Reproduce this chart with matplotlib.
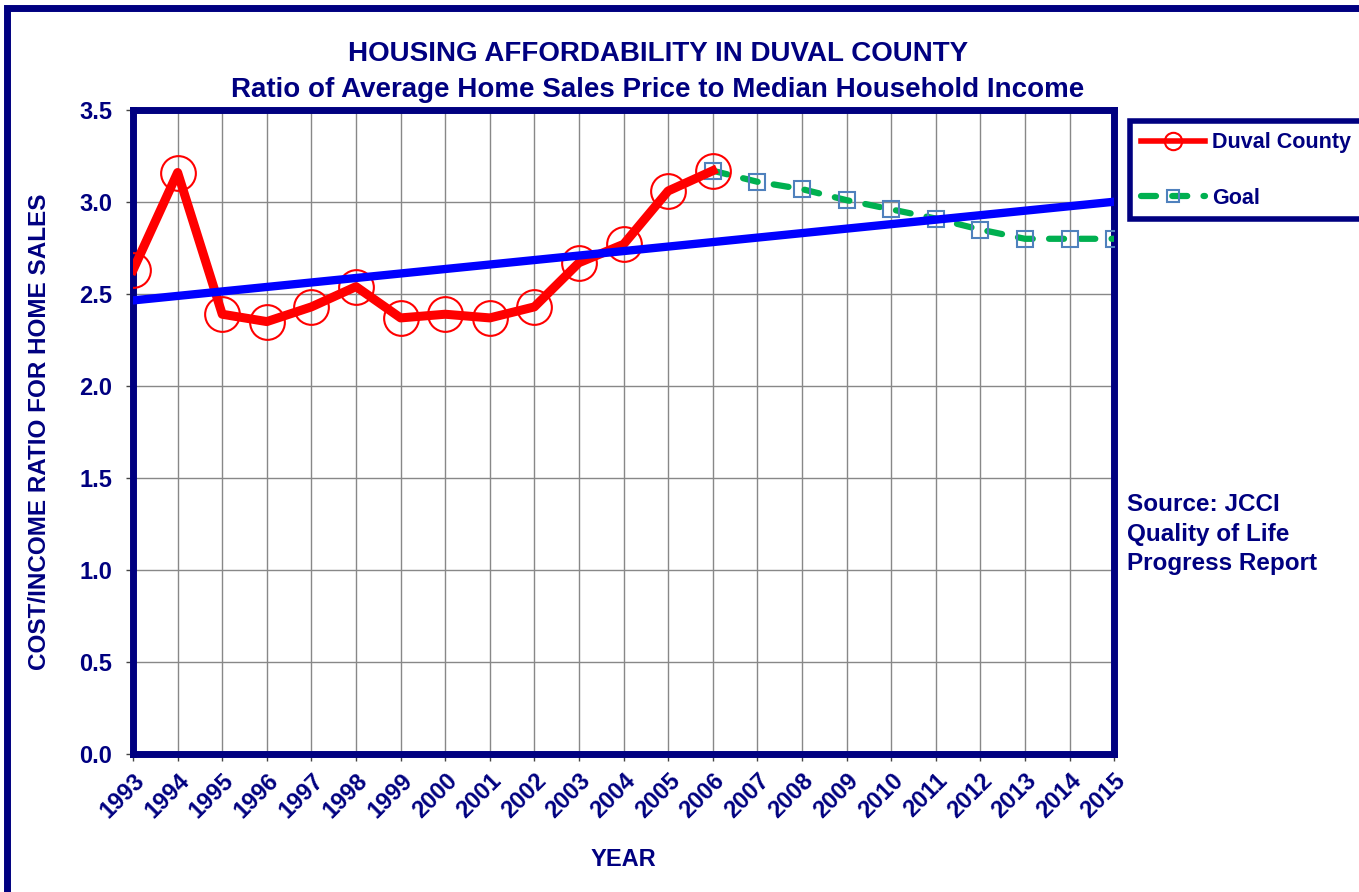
import numpy as np
import matplotlib
matplotlib.use("Agg")
import matplotlib.pyplot as plt
from matplotlib.patches import Rectangle

plt.rcParams['font.family'] = ['Liberation Sans', 'DejaVu Sans']
plt.rcParams['font.weight'] = 'bold'

# data
years = list(range(1993, 2016))
duval_years = list(range(1993, 2007))
duval_ratio = [2.63, 3.16, 2.39, 2.35, 2.43, 2.54, 2.37, 2.39, 2.37, 2.43, 2.67, 2.77, 3.06, 3.17]
goal_years = list(range(2006, 2016))
goal_ratio = [3.17, 3.11, 3.07, 3.01, 2.96, 2.91, 2.85, 2.80, 2.80, 2.80]
y_ticks = [0.0, 0.5, 1.0, 1.5, 2.0, 2.5, 3.0, 3.5]

navy = '#000080'

fig = plt.figure(figsize=(13.59, 8.92), dpi=100)
ax = fig.add_axes([0.0979, 0.1547, 0.7219, 0.722])

# linear trendline of the county series, extended to 2015
coef = np.polyfit(duval_years, duval_ratio, 1)
trend = np.polyval(coef, years)

ax.plot(goal_years, goal_ratio, color='#00B050', lw=4.5, ls=(0, (2.4, 2.6)),
        dash_capstyle='round', marker='s', ms=11, mfc='none', mec='#4F81BD',
        mew=1.5, label='Goal', zorder=3)
ax.plot(duval_years, duval_ratio, color='#FF0000', lw=6.5, marker='o', ms=25,
        mfc='none', mec='#FF0000', mew=1.5, label='Duval County', zorder=4)
ax.plot(years, trend, color='#0000FF', lw=6, zorder=5)

ax.set_xlim(1993, 2015)
ax.set_ylim(0, 3.5)
ax.set_xticks(years)
ax.set_xticklabels([str(y) for y in years], rotation=45, ha='right',
                   rotation_mode='anchor', fontsize=17, fontweight='bold', color=navy)
ax.set_yticks(y_ticks)
ax.set_yticklabels(['%.1f' % v for v in y_ticks], fontsize=17, fontweight='bold', color=navy)
ax.tick_params(axis='both', length=5, width=1, color='#444444', pad=6)
ax.tick_params(axis='y', pad=10)
ax.grid(True, color='#888888', lw=1)
ax.set_axisbelow(True)
for s in ax.spines.values():
    s.set_color(navy)
    s.set_linewidth(5)

ax.set_xlabel('YEAR', fontsize=17, fontweight='bold', color=navy, labelpad=18)
ax.set_ylabel('COST/INCOME RATIO FOR HOME SALES', fontsize=17.5, fontweight='bold',
              color=navy, labelpad=20)

fig.text(0.484, 0.939, 'HOUSING AFFORDABILITY IN DUVAL COUNTY', ha='center', va='center',
         fontsize=20, fontweight='bold', color=navy)
fig.text(0.484, 0.899, 'Ratio of Average Home Sales Price to Median Household Income',
         ha='center', va='center', fontsize=20, fontweight='bold', color=navy)

handles, labels = ax.get_legend_handles_labels()
leg = fig.legend(handles[::-1], labels[::-1], loc='upper left',
                 bbox_to_anchor=(0.8235, 0.876, 0.25, 0.0), mode='expand',
                 fontsize=15.5, frameon=True, fancybox=False, framealpha=1,
                 labelspacing=1.6, handlelength=3.0, handletextpad=0.3,
                 borderpad=0.5, markerscale=0.5)
leg.get_frame().set_edgecolor(navy)
leg.get_frame().set_linewidth(4)
for t in leg.get_texts():
    t.set_color(navy)
    t.set_fontweight('bold')
# thinner line for the county key, larger square for the goal key
leg_lines = leg.get_lines()
leg_lines[0].set_linewidth(4)
leg_lines[1].set_markersize(9)

fig.text(0.829, 0.401, 'Source: JCCI\nQuality of Life\nProgress Report', ha='left',
         va='center', fontsize=17.5, fontweight='bold', color=navy, linespacing=1.37)

# outer chart border
fig.patches.append(Rectangle((0.005, -0.1), 1.2, 1.1 - 0.009, transform=fig.transFigure,
                             fill=False, edgecolor=navy, lw=5))

fig.savefig('out.png', dpi=100)
